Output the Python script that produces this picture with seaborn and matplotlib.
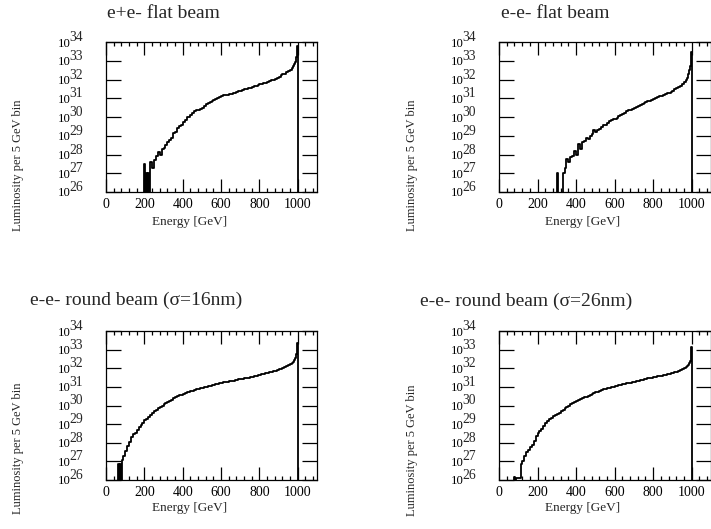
import numpy as np
import pandas as pd
import matplotlib
matplotlib.use("Agg")
import matplotlib.pyplot as plt
from matplotlib.ticker import FixedLocator, MultipleLocator, NullLocator, FixedFormatter
from matplotlib.transforms import offset_copy
import seaborn as sns

# ---------------- data (log10 of luminosity per bin) ----------------
FLOOR = 20.0  # empty bin (below the axis)

titles = ["e+e- flat beam", "e-e- flat beam",
          "e-e- round beam (\u03c3=16nm)", "e-e- round beam (\u03c3=26nm)"]

# panel 1: e+e- flat beam
head1_start = 200
head1 = [27.5, 20, 27.0, 20, 27.0, 20]
body1 = [27.6, 27.3, 27.7, 27.9, 28.15, 28.0, 28.3, 28.35, 28.5, 28.65,
         28.75, 28.9, 29.15, 29.2, 29.4, 29.5, 29.6, 29.75, 29.85, 30.0,
         30.0, 30.1, 30.2, 30.3, 30.35, 30.4, 30.45, 30.5, 30.6, 30.7,
         30.75, 30.8, 30.85, 30.9, 30.95, 31.0, 31.05, 31.1, 31.15, 31.18,
         31.2, 31.22, 31.25, 31.28, 31.3, 31.34, 31.38, 31.4, 31.44, 31.47,
         31.5, 31.53, 31.57, 31.6, 31.63, 31.67, 31.7, 31.74, 31.77, 31.8,
         31.84, 31.88, 31.92, 31.96, 32.0, 32.05, 32.1, 32.15, 32.22, 32.27,
         32.32, 32.38, 32.43, 32.5]
tail1 = [32.62, 32.72, 32.82, 32.95, 33.2, 33.8]

# panel 2: e-e- flat beam
head2_start = 300
head2 = [27.0, 20, 20, 20, 20, 20]
body2 = [27.0, 27.3, 27.75, 27.6, 27.85, 27.9, 28.2, 28.0, 28.55, 28.3,
         28.65, 28.7, 28.9, 28.85, 29.0, 29.1, 29.3, 29.2, 29.3, 29.35,
         29.45, 29.55, 29.6, 29.7, 29.8, 29.82, 29.87, 29.9, 29.97, 30.05,
         30.12, 30.18, 30.24, 30.3, 30.35, 30.4, 30.45, 30.5, 30.55, 30.6,
         30.63, 30.68, 30.73, 30.78, 30.83, 30.87, 30.92, 30.95, 31.0, 31.05,
         31.1, 31.13, 31.18, 31.22, 31.26, 31.3, 31.35, 31.4, 31.47, 31.53,
         31.6, 31.68, 31.78, 31.88]
tail2 = [32.0, 32.1, 32.3, 32.5, 32.7, 33.45]

# panel 3: e-e- round beam, sigma = 16 nm
head3_start = 65
head3 = [26.85, 20, 26.85, 20, 27.05]
body3 = [27.3, 27.55, 27.85, 28.05, 28.3, 28.45, 28.5, 28.7, 28.85, 28.95,
         29.08, 29.2, 29.3, 29.4, 29.5, 29.6, 29.7, 29.78, 29.85, 29.93,
         30.0, 30.08, 30.15, 30.2, 30.26, 30.32, 30.38, 30.45, 30.5, 30.54,
         30.58, 30.62, 30.66, 30.7, 30.75, 30.78, 30.8, 30.83, 30.86, 30.89,
         30.92, 30.95, 30.97, 31.0, 31.03, 31.05, 31.08, 31.1, 31.13, 31.16,
         31.2, 31.22, 31.24, 31.26, 31.28, 31.3, 31.32, 31.34, 31.36, 31.38,
         31.4, 31.42, 31.44, 31.46, 31.48, 31.5, 31.52, 31.54, 31.57, 31.6,
         31.62, 31.65, 31.67, 31.7, 31.72, 31.75, 31.78, 31.81, 31.84, 31.87,
         31.9, 31.94, 31.98, 32.02, 32.06, 32.1, 32.16, 32.22]
tail3 = [32.3, 32.36, 32.45, 32.55, 32.75, 33.33]

# panel 4: e-e- round beam, sigma = 26 nm
head4_start = 80
head4 = [26.15, 20, 26.1, 26.1, 26.1, 26.1, 26.1, 26.85]
body4 = [27.0, 27.3, 27.5, 27.6, 27.75, 27.9, 28.1, 28.35, 28.5, 28.62,
         28.75, 28.9, 29.05, 29.15, 29.25, 29.33, 29.42, 29.48, 29.55, 29.62,
         29.7, 29.77, 29.85, 29.92, 30.0, 30.08, 30.15, 30.2, 30.25, 30.3,
         30.35, 30.4, 30.45, 30.48, 30.52, 30.57, 30.62, 30.66, 30.7, 30.75,
         30.8, 30.83, 30.86, 30.9, 30.93, 30.96, 30.99, 31.02, 31.05, 31.07,
         31.1, 31.12, 31.15, 31.17, 31.19, 31.21, 31.23, 31.25, 31.28, 31.3,
         31.32, 31.35, 31.37, 31.4, 31.42, 31.45, 31.47, 31.5, 31.52, 31.54,
         31.56, 31.58, 31.6, 31.62, 31.65, 31.67, 31.7, 31.72, 31.75, 31.78,
         31.82, 31.86, 31.9, 31.95, 32.0]
tail4 = [32.08, 32.12, 32.2, 32.3, 32.4, 33.15]

panels = [(head1_start, head1, body1, tail1),
          (head2_start, head2, body2, tail2),
          (head3_start, head3, body3, tail3),
          (head4_start, head4, body4, tail4)]

xticks_major = [0, 200, 400, 600, 800, 1000]
ydecades = list(range(26, 35))


def build(start, head, body, tail):
    e_head = start + 5.0 * np.arange(len(head))
    b0 = start + 5.0 * len(head)
    e_body = b0 + 10.0 * np.arange(len(body))
    t0 = b0 + 10.0 * len(body)
    e_tail = t0 + 5.0 * np.arange(len(tail))
    left = np.concatenate([[start - 5.0], e_head, e_body, e_tail])
    end = t0 + 5.0 * len(tail)
    left = np.append(left, end)
    edges = np.append(left, end + 5.0)
    logv = np.concatenate([[FLOOR], head, body, tail, [FLOOR]])
    return edges, logv


# ---------------- style ----------------
sns.set_style("ticks")
plt.rcParams["font.family"] = ["Liberation Serif", "DejaVu Serif"]

W, H = 711, 529
fig = plt.figure(figsize=(W / 100, H / 100), dpi=100)

rects_px = [(106, 42, 211, 150), (499, 42, 212, 150),
            (106, 331, 211, 149), (499, 331, 212, 149)]
title_pos = [(107, 14), (501, 14), (30, 300), (420, 301)]
ylabel_pos = [(18, 165), (412, 165), (18, 448), (412, 450)]
xlabel_pos = [(190, 222), (583, 222), (190, 508), (583, 508)]

for i, (start, head, body, tail) in enumerate(panels):
    l, t, w, h = rects_px[i]
    ax = fig.add_axes([l / W, 1 - (t + h) / H, w / W, h / H])
    edges, logv = build(start, head, body, tail)
    centers = 0.5 * (edges[:-1] + edges[1:])
    df = pd.DataFrame({"energy": centers, "lumi": 10.0 ** logv})
    sns.histplot(data=df, x="energy", weights="lumi", bins=[float(e) for e in edges],
                 element="step", fill=False, color="black", linewidth=1.3, ax=ax)
    ax.set_yscale("log")
    ax.set_xlim(0, 1100)
    ax.set_ylim(1e26, 1e34)
    ax.set_xlabel("")
    ax.set_ylabel("")
    ax.xaxis.set_major_locator(FixedLocator(xticks_major))
    ax.xaxis.set_minor_locator(MultipleLocator(40))
    ax.yaxis.set_major_locator(FixedLocator([10.0 ** d for d in ydecades]))
    ax.yaxis.set_minor_locator(NullLocator())
    # base "10" as the tick label, exponent drawn as a raised text next to it
    ax.yaxis.set_major_formatter(FixedFormatter(["10"] * len(ydecades)))
    ax.tick_params(axis="both", which="both", direction="in", top=True, right=True,
                   colors="black", width=0.9)
    ax.tick_params(axis="x", which="major", length=9.5, pad=4.5, labelsize=10)
    ax.tick_params(axis="x", which="minor", length=3)
    ax.tick_params(axis="y", which="major", length=11, pad=25.6, labelsize=9.2)
    exp_tr = offset_copy(ax.get_yaxis_transform(), fig=fig, x=-23, y=4.5, units="dots")
    for d in ydecades:
        ax.text(0, 10.0 ** d, str(d), transform=exp_tr, ha="right", va="center",
                fontsize=9.8, clip_on=False)
    for s in ax.spines.values():
        s.set_linewidth(0.9)
        s.set_color("black")

    tx, ty = title_pos[i]
    fig.text(tx / W, 1 - ty / H, titles[i], fontsize=14, ha="left", va="center")
    yx, yy = ylabel_pos[i]
    fig.text(yx / W, 1 - yy / H, "Luminosity per 5 GeV bin", fontsize=9,
             rotation=90, ha="center", va="center")
    xx, xy = xlabel_pos[i]
    fig.text(xx / W, 1 - xy / H, "Energy [GeV]", fontsize=9.5, ha="center", va="center")

fig.savefig("out.png", dpi=100)
